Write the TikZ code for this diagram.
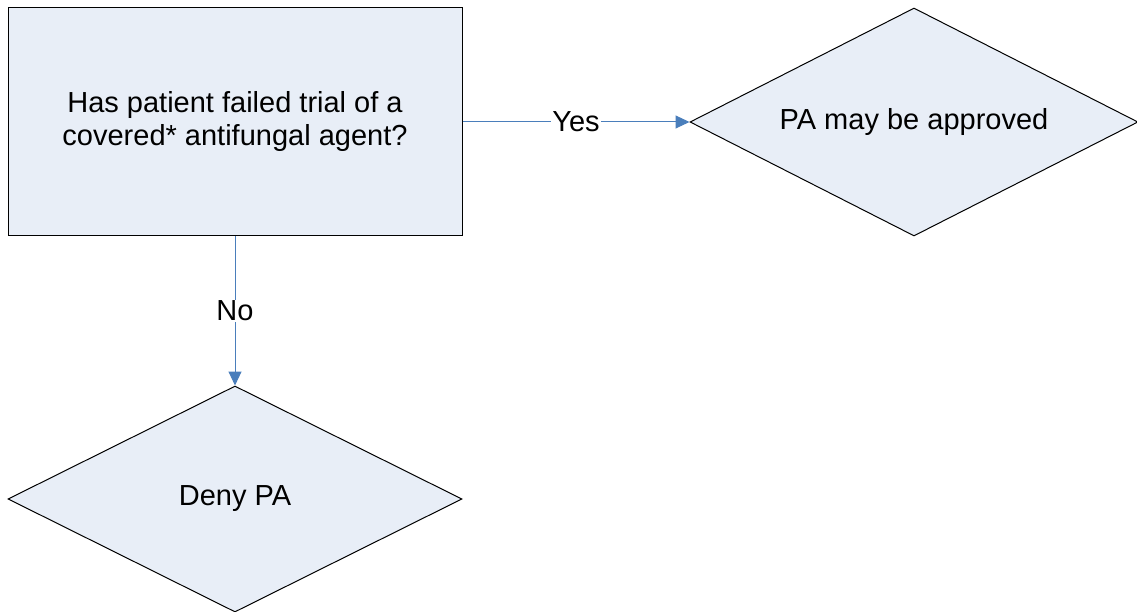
\documentclass[tikz,border=0pt]{standalone}
\usepackage{fontspec}
\setmainfont{Liberation Sans}
\usepackage{tikz}
\usetikzlibrary{shapes.geometric,arrows.meta}
\definecolor{boxfill}{RGB}{232,238,247}
\definecolor{linkblue}{RGB}{74,126,187}

\begin{document}
\begin{tikzpicture}[x=1pt,y=-1pt,
    question/.style={draw=black,fill=boxfill,line width=1pt,minimum width=454pt,minimum height=228pt,align=center,font=\fontsize{29}{33}\selectfont},
    outcome/.style={diamond,draw=black,fill=boxfill,line width=1pt,aspect=2,inner sep=0pt,minimum width=448pt,minimum height=228pt,font=\fontsize{29}{33}\selectfont},
    link/.style={draw=linkblue,line width=1pt,-{Triangle[length=14pt,width=13pt]}},
    answer/.style={fill=white,inner sep=1pt,font=\fontsize{29}{33}\selectfont}]
    \useasboundingbox (0,0) rectangle (1137,612);
    \node[question] (failed) at (235,122) {Has patient failed trial of a\\covered* antifungal agent?};
    \node[outcome] (approve) at (914,122) {PA may be approved};
    \node[outcome,minimum width=454pt,minimum height=226pt] (deny) at (235,499) {Deny PA};
    \draw[link] (failed.east) -- node[answer] {Yes} (approve.west);
    \draw[link] (failed.south) -- node[answer] {No} (deny.north);
  \end{tikzpicture}
\end{document}
